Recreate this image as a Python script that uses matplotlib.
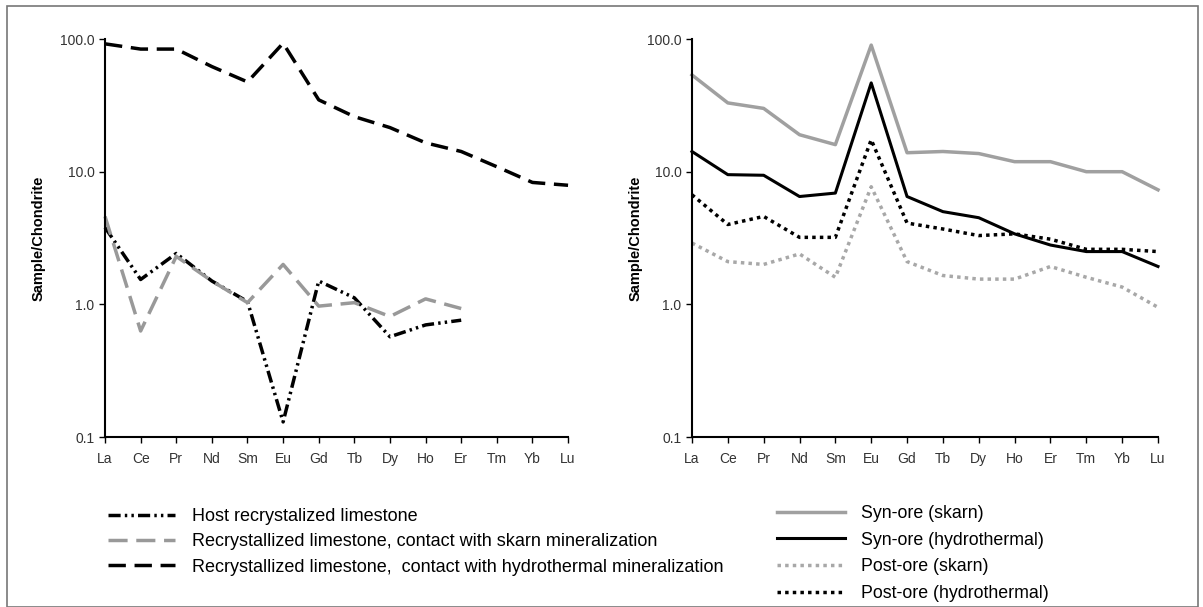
import matplotlib
matplotlib.use('Agg')
import matplotlib.pyplot as plt
from matplotlib.patches import Rectangle

plt.rcParams['font.family'] = ['Liberation Sans', 'DejaVu Sans']

ree = ['La', 'Ce', 'Pr', 'Nd', 'Sm', 'Eu', 'Gd', 'Tb', 'Dy', 'Ho', 'Er', 'Tm', 'Yb', 'Lu']

# panel izquierdo: calizas recristalizadas
host = [3.8, 1.54, 2.42, 1.5, 1.05, 0.13, 1.5, 1.12, 0.57, 0.70, 0.76]
skarn_contact = [4.6, 0.63, 2.3, 1.5, 1.03, 2.0, 0.97, 1.03, 0.81, 1.1, 0.93]
hydro_contact = [92, 84, 84, 62, 47.5, 93, 34.8, 26, 21.5, 16.5, 14.2, 10.9, 8.3, 7.9]

# panel derecho: syn-ore / post-ore
syn_skarn = [53.6, 33, 30, 19, 16, 90, 13.9, 14.2, 13.7, 11.9, 11.9, 10, 10, 7.3]
syn_hydro = [14.2, 9.5, 9.4, 6.5, 6.9, 46.7, 6.5, 5.0, 4.5, 3.4, 2.8, 2.5, 2.5, 1.93]
post_skarn = [2.9, 2.1, 2.0, 2.4, 1.6, 7.7, 2.1, 1.65, 1.55, 1.55, 1.93, 1.6, 1.35, 0.95]
post_hydro = [6.7, 4.0, 4.6, 3.2, 3.2, 17.4, 4.1, 3.7, 3.3, 3.4, 3.1, 2.6, 2.6, 2.5]

left_labels = ['Host recrystalized limestone',
               'Recrystallized limestone, contact with skarn mineralization',
               'Recrystallized limestone,  contact with hydrothermal mineralization']
right_labels = ['Syn-ore (skarn)', 'Syn-ore (hydrothermal)',
                'Post-ore (skarn)', 'Post-ore (hydrothermal)']


def preparar_eje(ax, pad_label):
    ax.set_yscale('log')
    ax.set_ylim(0.1, 100)
    ax.set_xlim(0, len(ree) - 1)
    ax.set_yticks([0.1, 1, 10, 100])
    ax.set_yticklabels(['0.1', '1.0', '10.0', '100.0'], fontsize=10, color='#333333')
    ax.minorticks_off()
    ax.set_xticks(range(len(ree)))
    ax.set_xticklabels(ree, fontsize=10, color='#333333')
    ax.spines['top'].set_visible(False)
    ax.spines['right'].set_visible(False)
    ax.spines['left'].set_linewidth(1.5)
    ax.spines['bottom'].set_linewidth(1.5)
    ax.tick_params(direction='out', length=4, width=1)
    ax.tick_params(axis='x', pad=7)
    ax.set_ylabel('Sample/Chondrite', fontsize=10.5, fontweight='bold', labelpad=pad_label)


fig = plt.figure(figsize=(12.03, 6.07), dpi=100)
fig.add_artist(Rectangle((0.006, 0.0), 0.99, 0.99, transform=fig.transFigure,
                         fill=False, edgecolor='#777777', linewidth=1.2))

ax1 = fig.add_axes([0.0873, 0.280, 0.3849, 0.6557])
ax2 = fig.add_axes([0.5752, 0.280, 0.3874, 0.6557])

x = list(range(len(ree)))
l1, = ax1.plot(x[:len(host)], host, color='black', lw=2.5, dashes=(3.5, 1.2, 0.7, 1.2, 0.7, 1.2))
l2, = ax1.plot(x[:len(skarn_contact)], skarn_contact, color='#999999', lw=2.5, dashes=(5.5, 2.5))
l3, = ax1.plot(x, hydro_contact, color='black', lw=2.5, dashes=(5, 2.5))
for ln in (l1, l2, l3):
    ln.set_clip_on(False)
preparar_eje(ax1, 10)

r1, = ax2.plot(x, syn_skarn, color='#a0a0a0', lw=2.5)
r2, = ax2.plot(x, syn_hydro, color='black', lw=2.2)
r3, = ax2.plot(x, post_skarn, color='#a8a8a8', lw=2.5, dashes=(1, 1.2))
r4, = ax2.plot(x, post_hydro, color='black', lw=2.5, dashes=(1, 1.2))
for ln in (r1, r2, r3, r4):
    ln.set_clip_on(False)
preparar_eje(ax2, 3)

fig.legend([l1, l2, l3], left_labels, loc='upper left', bbox_to_anchor=(0.0898, 0.163),
           frameon=False, fontsize=13, handlelength=3.7, handletextpad=0.95,
           labelspacing=0.46, borderpad=0, borderaxespad=0)
fig.legend([r1, r2, r3, r4], right_labels, loc='upper left', bbox_to_anchor=(0.646, 0.168),
           frameon=False, fontsize=12.8, handlelength=3.8, handletextpad=0.9,
           labelspacing=0.54, borderpad=0, borderaxespad=0)

plt.savefig('out.png', dpi=100)
plt.close()
